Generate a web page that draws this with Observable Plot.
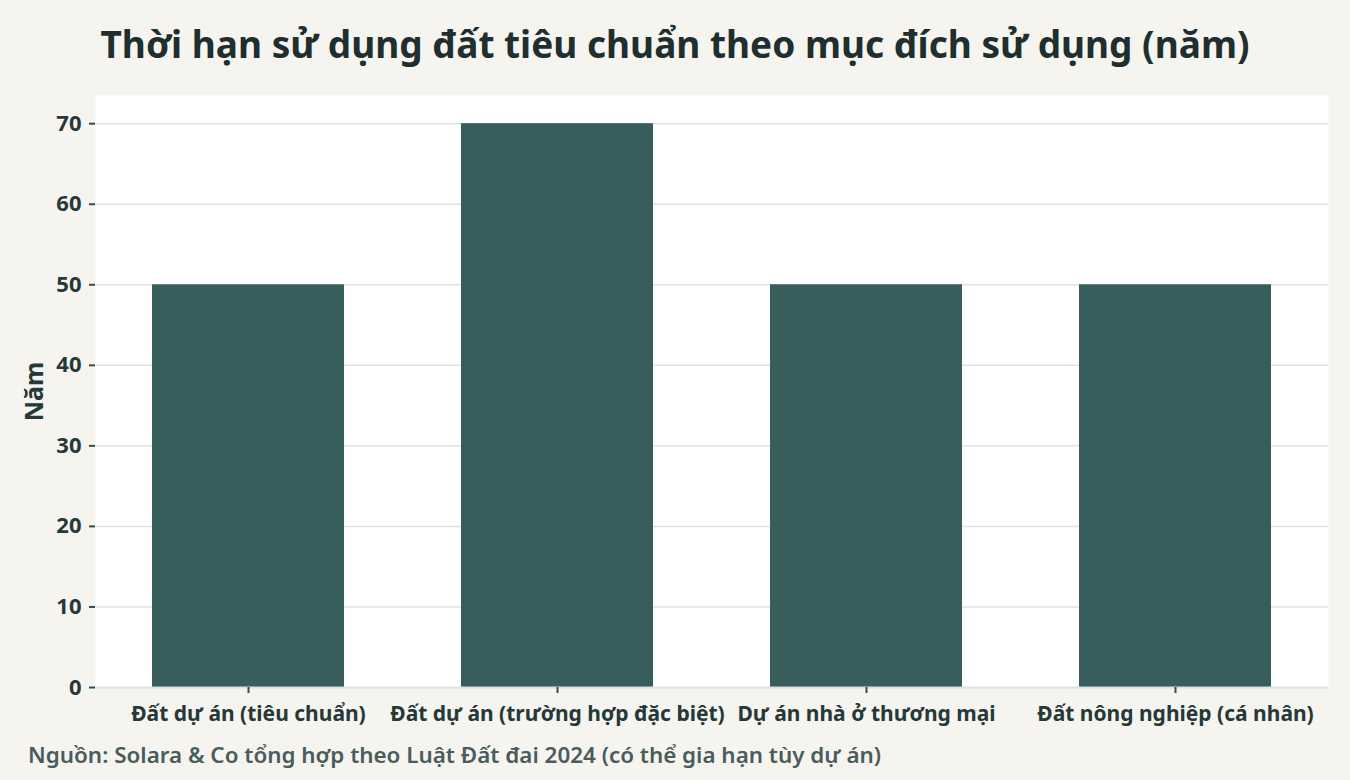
<!DOCTYPE html>
<html>
<head>
<meta charset="utf-8">
<script src="https://cdn.jsdelivr.net/npm/d3@7"></script>
<script src="https://cdn.jsdelivr.net/npm/@observablehq/plot@0.6"></script>
<style>
  html, body { margin: 0; padding: 0; background: #f5f4ef; }
  body { width: 1350px; height: 780px; overflow: hidden; font-family: "Noto Sans", sans-serif; position: relative; }
  #title { height: 88px; box-sizing: border-box; padding-top: 18px; text-align: center; font-weight: 700; font-size: 37px; color: #1f2e2e; padding-left: 0; letter-spacing: 0; }
  #caption { position: absolute; top: 739px; left: 28px; font-size: 22.4px; font-weight: 600; color: #4a5c5c; }
  #chart svg { display: block; }
</style>
</head>
<body>
<div id="title">Thời hạn sử dụng đất tiêu chuẩn theo mục đích sử dụng (năm)</div>
<div id="chart"></div>
<div id="caption">Nguồn: Solara &amp; Co tổng hợp theo Luật Đất đai 2024 (có thể gia hạn tùy dự án)</div>
<script>
const categories = [
  "Đất dự án (tiêu chuẩn)",
  "Đất dự án (trường hợp đặc biệt)",
  "Dự án nhà ở thương mại",
  "Đất nông nghiệp (cá nhân)"
];
const years = [50, 70, 50, 50];
const yTicks = [0, 10, 20, 30, 40, 50, 60, 70];

const data = categories.map((c, i) => ({category: c, value: years[i]}));

const chart = Plot.plot({
  width: 1350,
  height: 652,
  marginTop: 7,
  marginBottom: 53,
  marginLeft: 95,
  marginRight: 22,
  style: {background: "transparent", fontFamily: "Noto Sans, sans-serif", color: "#263838"},
  x: {domain: categories, label: null, paddingInner: 0.38, paddingOuter: 0.18},
  y: {domain: [0, 73.5], label: "Năm", ticks: yTicks},
  marks: [
    Plot.frame({fill: "white", stroke: null}),
    Plot.gridY(yTicks, {stroke: "#dde3e3", strokeOpacity: 1, strokeWidth: 1.5}),
    Plot.barY(data, {x: "category", y: "value", fill: "#375d5d"}),
    Plot.ruleX([0], {frameAnchor: "left", stroke: "#dde3e3", strokeWidth: 2}),
    Plot.ruleY([0], {stroke: "#dde3e3", strokeWidth: 2}),
    Plot.axisY(yTicks, {tickSize: 6, tickPadding: 8, stroke: "#3a4a4a", strokeWidth: 2, fontSize: 22, fontWeight: 700, fill: "#263838",
      label: "Năm", labelAnchor: "center", labelArrow: "none", labelOffset: 70}),
    Plot.axisX({tickSize: 6, tickPadding: 13, stroke: "#3a4a4a", strokeWidth: 2, fontSize: 21, fontWeight: 700, fill: "#263838", label: null})
  ]
});
document.getElementById("chart").appendChild(chart);
chart.querySelectorAll("text").forEach(t => {
  if (t.textContent === "Năm") { t.setAttribute("font-size", "25"); t.setAttribute("font-weight", "700"); }
});
</script>
</body>
</html>
